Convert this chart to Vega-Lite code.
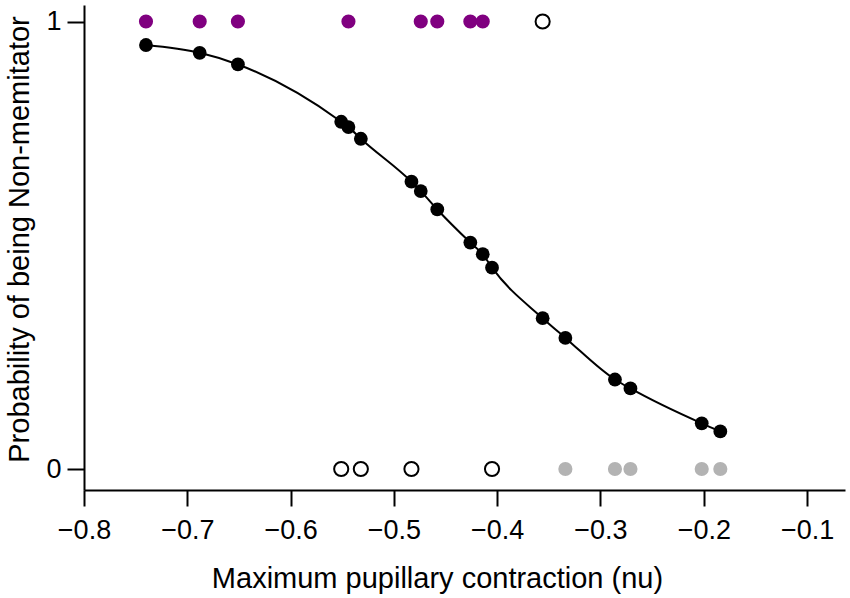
{
  "$schema": "https://vega.github.io/schema/vega-lite/v6.json",
  "width": 761,
  "height": 485,
  "autosize": "none",
  "padding": {"left": 84, "top": 5, "right": 5, "bottom": 108},
  "background": "white",
  "config": {
    "font": "Liberation Sans",
    "view": {"stroke": null},
    "axis": {
      "grid": false,
      "domainColor": "black",
      "domainWidth": 2,
      "tickColor": "black",
      "tickWidth": 2,
      "labelColor": "black",
      "titleColor": "black",
      "labelFont": "Liberation Sans",
      "titleFont": "Liberation Sans",
      "labelFontSize": 27,
      "titleFontSize": 29,
      "titleFontWeight": "normal",
      "labelFlush": false
    }
  },
  "data": {
    "values": [
      {"x": -0.740, "p": 0.9475, "obs": 1, "grp": "non"},
      {"x": -0.688, "p": 0.930, "obs": 1, "grp": "non"},
      {"x": -0.651, "p": 0.904, "obs": 1, "grp": "non"},
      {"x": -0.551, "p": 0.776, "obs": 0, "grp": "miss"},
      {"x": -0.544, "p": 0.764, "obs": 1, "grp": "non"},
      {"x": -0.532, "p": 0.738, "obs": 0, "grp": "miss"},
      {"x": -0.483, "p": 0.642, "obs": 0, "grp": "miss"},
      {"x": -0.474, "p": 0.621, "obs": 1, "grp": "non"},
      {"x": -0.458, "p": 0.580, "obs": 1, "grp": "non"},
      {"x": -0.426, "p": 0.506, "obs": 1, "grp": "non"},
      {"x": -0.414, "p": 0.480, "obs": 1, "grp": "non"},
      {"x": -0.405, "p": 0.450, "obs": 0, "grp": "miss"},
      {"x": -0.356, "p": 0.337, "obs": 1, "grp": "miss"},
      {"x": -0.334, "p": 0.293, "obs": 0, "grp": "mem"},
      {"x": -0.286, "p": 0.200, "obs": 0, "grp": "mem"},
      {"x": -0.271, "p": 0.180, "obs": 0, "grp": "mem"},
      {"x": -0.202, "p": 0.102, "obs": 0, "grp": "mem"},
      {"x": -0.184, "p": 0.084, "obs": 0, "grp": "mem"}
    ]
  },
  "encoding": {
    "x": {
      "field": "x",
      "type": "quantitative",
      "scale": {"domain": [-0.8, -0.0633], "nice": false, "zero": false},
      "axis": {
        "values": [-0.8, -0.7, -0.6, -0.5, -0.4, -0.3, -0.2, -0.1],
        "format": ".1f",
        "tickSize": 16,
        "labelPadding": 11,
        "title": "Maximum pupillary contraction (nu)",
        "titleX": 353,
        "titleY": 97,
        "titleAlign": "center",
        "titleBaseline": "alphabetic"
      }
    }
  },
  "layer": [
    {
      "mark": {"type": "line", "color": "black", "strokeWidth": 2, "interpolate": "monotone"},
      "encoding": {
        "y": {
          "field": "p",
          "type": "quantitative",
          "scale": {"domain": [-0.0469, 1.0369], "nice": false, "zero": false},
          "axis": {
            "values": [0, 1],
            "format": "d",
            "tickSize": 17,
            "labelPadding": 6,
            "title": "Probability of being Non-memitator",
            "titleX": -50,
            "titleY": 234,
            "titleAngle": -90,
            "titleAlign": "center",
            "titleBaseline": "bottom"
          }
        }
      }
    },
    {
      "mark": {"type": "point", "filled": true, "color": "black", "size": 190, "opacity": 1},
      "encoding": {"y": {"field": "p", "type": "quantitative"}}
    },
    {
      "transform": [{"filter": "datum.grp != 'miss'"}],
      "mark": {"type": "point", "filled": true, "size": 200, "opacity": 1},
      "encoding": {
        "y": {"field": "obs", "type": "quantitative"},
        "color": {
          "field": "grp",
          "type": "nominal",
          "scale": {"domain": ["non", "mem"], "range": ["#800080", "#b3b3b3"]},
          "legend": null
        }
      }
    },
    {
      "transform": [{"filter": "datum.grp == 'miss'"}],
      "mark": {"type": "point", "filled": false, "stroke": "black", "strokeWidth": 2, "size": 200, "opacity": 1},
      "encoding": {"y": {"field": "obs", "type": "quantitative"}}
    }
  ]
}
